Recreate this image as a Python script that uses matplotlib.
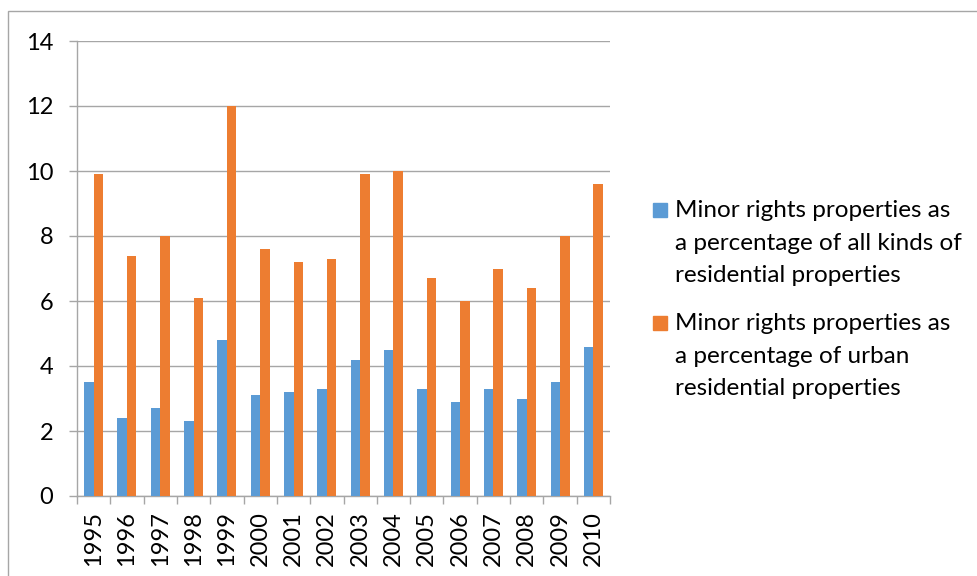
import numpy as np
import matplotlib
matplotlib.use("Agg")
import matplotlib.pyplot as plt
from matplotlib.patches import Rectangle

plt.rcParams['font.family'] = ['Lato', 'DejaVu Sans']

# data
years = ['1995', '1996', '1997', '1998', '1999', '2000', '2001', '2002',
         '2003', '2004', '2005', '2006', '2007', '2008', '2009', '2010']
all_kinds = [3.5, 2.4, 2.7, 2.3, 4.8, 3.1, 3.2, 3.3, 4.2, 4.5, 3.3, 2.9, 3.3, 3.0, 3.5, 4.6]
urban = [9.9, 7.4, 8.0, 6.1, 12.0, 7.6, 7.2, 7.3, 9.9, 10.0, 6.7, 6.0, 7.0, 6.4, 8.0, 9.6]
labels = ['Minor rights properties as\na percentage of all kinds of\nresidential properties',
          'Minor rights properties as\na percentage of urban\nresidential properties']

blue = '#5B9BD5'
orange = '#ED7D31'
grid = '#A6A6A6'
W, H = 977, 576

fig = plt.figure(figsize=(9.77, 5.76), dpi=100)
ax = fig.add_axes([77 / W, 80 / H, 533 / W, 455 / H])

x = np.arange(len(years))
w = 1 / 3.5
ax.bar(x - w / 2, all_kinds, w, color=blue, zorder=3)
ax.bar(x + w / 2, urban, w, color=orange, zorder=3)

ax.set_xlim(-0.5, len(years) - 0.5)
ax.set_ylim(0, 14)
ax.set_yticks(range(0, 15, 2))
ax.yaxis.grid(True, color=grid, lw=1.0, zorder=0)
ax.tick_params(axis='y', length=6, color=grid, width=1.0, labelsize=17, pad=11)

ax.set_xticks(x)
ax.set_xticklabels(years, rotation=90, fontsize=17)
ax.tick_params(axis='x', length=0, pad=11)
ax.set_xticks(np.arange(-0.5, len(years)), minor=True)
ax.tick_params(axis='x', which='minor', length=6, color=grid, width=1.0)

for s in ['top', 'right']:
    ax.spines[s].set_visible(False)
for s in ['left', 'bottom']:
    ax.spines[s].set_color(grid)
    ax.spines[s].set_linewidth(1.0)

# legend drawn by hand so the swatch sits on the first text line
for lab, col, y0 in zip(labels, [blue, orange], [210, 323]):
    fig.patches.append(Rectangle((653 / W, 1 - (y0 + 7) / H), 14 / W, 14 / H,
                                 transform=fig.transFigure, color=col))
    fig.text(675 / W, 1 - (y0 - 10) / H, lab, fontsize=17.5, va='top',
             ha='left', linespacing=1.68)

# chart area border
fig.patches.append(Rectangle((8 / W, -0.1), 1.2, 1 - 11 / H + 0.1,
                             transform=fig.transFigure, fill=False,
                             edgecolor=grid, lw=1.0))

fig.savefig('out.png', dpi=100)
